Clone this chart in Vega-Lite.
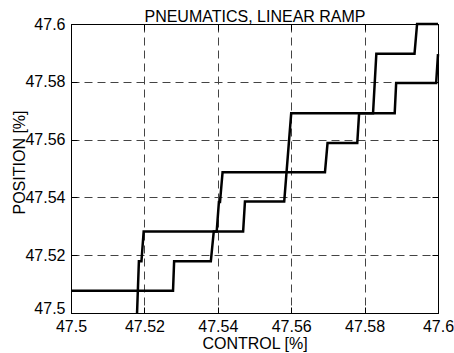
{
  "$schema": "https://vega.github.io/schema/vega-lite/v6.json",
  "width": 367,
  "height": 289,
  "autosize": {"type": "none"},
  "padding": {"left": 71, "top": 24, "right": 16, "bottom": 40},
  "background": "white",
  "config": {"view": {"stroke": "black", "strokeWidth": 1}, "font": "Liberation Sans"},
  "data": {"values": [
    {"series": "A", "i": 1, "control": 47.5, "position": 47.5077},
    {"series": "A", "i": 2, "control": 47.5278, "position": 47.5077},
    {"series": "A", "i": 3, "control": 47.5281, "position": 47.5179},
    {"series": "A", "i": 4, "control": 47.5381, "position": 47.5179},
    {"series": "A", "i": 5, "control": 47.5389, "position": 47.5282},
    {"series": "A", "i": 6, "control": 47.5469, "position": 47.5282},
    {"series": "A", "i": 7, "control": 47.5474, "position": 47.5386},
    {"series": "A", "i": 8, "control": 47.5581, "position": 47.5386},
    {"series": "A", "i": 9, "control": 47.56, "position": 47.5691},
    {"series": "A", "i": 10, "control": 47.5823, "position": 47.5691},
    {"series": "A", "i": 11, "control": 47.5832, "position": 47.5897},
    {"series": "A", "i": 12, "control": 47.5936, "position": 47.5897},
    {"series": "A", "i": 13, "control": 47.5943, "position": 47.6},
    {"series": "A", "i": 14, "control": 47.6, "position": 47.6},
    {"series": "B", "i": 1, "control": 47.518, "position": 47.5},
    {"series": "B", "i": 2, "control": 47.5185, "position": 47.5179},
    {"series": "B", "i": 3, "control": 47.5192, "position": 47.5179},
    {"series": "B", "i": 4, "control": 47.5198, "position": 47.5282},
    {"series": "B", "i": 5, "control": 47.5397, "position": 47.5282},
    {"series": "B", "i": 6, "control": 47.5403, "position": 47.5384},
    {"series": "B", "i": 7, "control": 47.5406, "position": 47.5384},
    {"series": "B", "i": 8, "control": 47.5413, "position": 47.5487},
    {"series": "B", "i": 9, "control": 47.5692, "position": 47.5487},
    {"series": "B", "i": 10, "control": 47.5699, "position": 47.5588},
    {"series": "B", "i": 11, "control": 47.578, "position": 47.5588},
    {"series": "B", "i": 12, "control": 47.5785, "position": 47.5691},
    {"series": "B", "i": 13, "control": 47.5882, "position": 47.5691},
    {"series": "B", "i": 14, "control": 47.5886, "position": 47.5796},
    {"series": "B", "i": 15, "control": 47.5995, "position": 47.5796},
    {"series": "B", "i": 16, "control": 47.6, "position": 47.5896}
  ]},
  "layer": [
    {
      "mark": {"type": "line", "color": "black", "strokeWidth": 2.5, "strokeJoin": "miter"},
      "encoding": {
        "x": {"field": "control", "type": "quantitative",
          "scale": {"domain": [47.5, 47.6], "nice": false, "zero": false},
          "axis": {"orient": "bottom", "values": [47.5, 47.52, 47.54, 47.56, 47.58, 47.6], "format": "~g",
            "title": "CONTROL [%]", "grid": true, "gridColor": "#444", "gridDash": [8, 5], "gridWidth": 1, "gridOpacity": 1,
            "tickSize": -6, "tickColor": "black", "tickWidth": 1, "domainColor": "black", "domainWidth": 1,
            "labelFontSize": 16, "labelColor": "black", "labelFont": "Liberation Sans", "labelPadding": 11,
            "labelFlush": false, "labelOverlap": false, "labelBound": false,
            "titleFontSize": 16, "titleFontWeight": "normal", "titleColor": "black", "titleFont": "Liberation Sans",
            "titleY": 35, "titleBaseline": "alphabetic"}},
        "y": {"field": "position", "type": "quantitative",
          "scale": {"domain": [47.5, 47.6], "nice": false, "zero": false},
          "axis": {"orient": "left", "values": [47.5, 47.52, 47.54, 47.56, 47.58, 47.6], "format": "~g",
            "title": "POSITION [%]", "grid": true, "gridColor": "#444", "gridDash": [8, 5], "gridWidth": 1, "gridOpacity": 1,
            "tickSize": -6, "tickColor": "black", "tickWidth": 1, "domainColor": "black", "domainWidth": 1,
            "labelFontSize": 16, "labelColor": "black", "labelFont": "Liberation Sans", "labelPadding": 12,
            "labelBaseline": {"condition": {"test": "datum.value < 47.505", "value": "alphabetic"}, "value": "middle"},
            "labelFlush": false, "labelOverlap": false, "labelBound": false,
            "titleFontSize": 16, "titleFontWeight": "normal", "titleColor": "black", "titleFont": "Liberation Sans",
            "titleAngle": -90, "titleX": -47, "titleY": 138, "titleAlign": "center", "titleBaseline": "alphabetic"}},
        "detail": {"field": "series"},
        "order": {"field": "i", "type": "quantitative"}
      }
    },
    {
      "mark": {"type": "line", "opacity": 0},
      "encoding": {
        "x": {"field": "control", "type": "quantitative",
          "axis": {"orient": "top", "values": [47.5, 47.52, 47.54, 47.56, 47.58, 47.6], "labels": false,
            "title": "PNEUMATICS, LINEAR RAMP", "titleFontSize": 16, "titleFontWeight": "normal", "titleColor": "black",
            "titleFont": "Liberation Sans", "titleY": -3, "titleBaseline": "alphabetic",
            "grid": false, "tickSize": -6, "tickColor": "black", "domainColor": "black"}},
        "y": {"field": "position", "type": "quantitative",
          "axis": {"orient": "right", "values": [47.5, 47.52, 47.54, 47.56, 47.58, 47.6], "labels": false, "title": null,
            "grid": false, "tickSize": -6, "tickColor": "black", "domainColor": "black"}},
        "detail": {"field": "series"},
        "order": {"field": "i", "type": "quantitative"}
      }
    }
  ],
  "resolve": {"axis": {"x": "independent", "y": "independent"}}
}
